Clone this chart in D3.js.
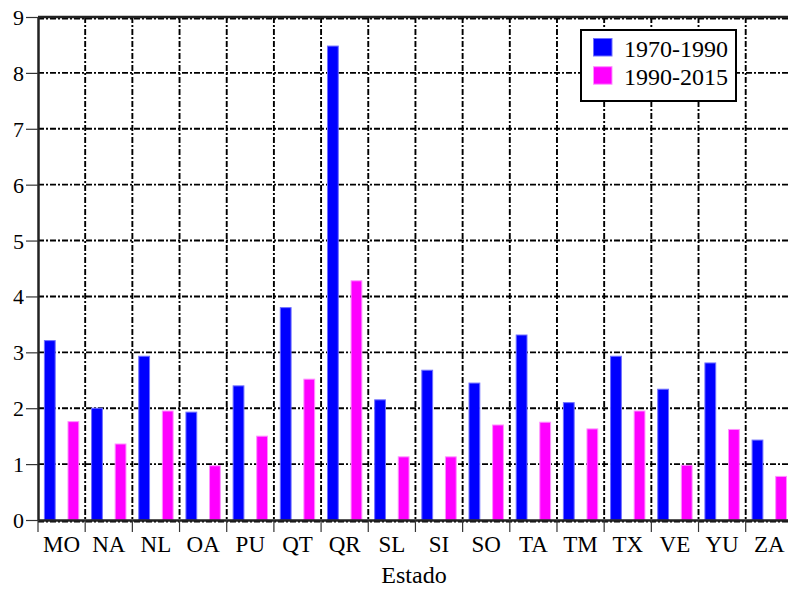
<!DOCTYPE html>
<html>
<head>
<meta charset="utf-8">
<script src="https://cdn.jsdelivr.net/npm/d3@7"></script>
<style>
  html, body { margin: 0; padding: 0; background: #fff; }
  svg { display: block; }
  text { font-family: "Liberation Serif", "Times New Roman", "DejaVu Serif", serif; fill: #000; }
</style>
</head>
<body>
<svg id="chart" width="788" height="589"></svg>
<script>
const categories = ["MO","NA","NL","OA","PU","QT","QR","SL","SI","SO","TA","TM","TX","VE","YU","ZA"];
const seriesNames = ["1970-1990","1990-2015"];
const values1970_1990 = [3.21,2.00,2.93,1.93,2.40,3.80,8.48,2.15,2.68,2.45,3.31,2.10,2.93,2.34,2.81,1.43];
const values1990_2015 = [1.76,1.36,1.95,0.97,1.50,2.52,4.28,1.13,1.13,1.70,1.75,1.63,1.95,0.98,1.62,0.78];
const yTicks = [0,1,2,3,4,5,6,7,8,9];
const colors = ["#0000ff","#ff00ff"];
const strokes = ["#7070ff","#ff90ff"];
const xTitle = "Estado";
const serif = '"Liberation Serif", "Times New Roman", serif';

const svg = d3.select("#chart");
const plotLeft = 38, plotTop = 17, plotBottom = 520, bandW = 47.18;
const plotRight = plotLeft + bandW * categories.length;

const x = d3.scaleBand().domain(categories).range([plotLeft, plotRight]).padding(0);
const xs = d3.scaleBand().domain(seriesNames).range([0, x.bandwidth()]).paddingInner(0.5).paddingOuter(0.25);
const y = d3.scaleLinear().domain([0, 9]).range([plotBottom, plotTop]);

const data = categories.map((c, i) => ({c, vals: [values1970_1990[i], values1990_2015[i]]}));

// grid
const grid = svg.append("g").attr("stroke", "#000").attr("stroke-width", 1.9).attr("stroke-dasharray", "6,2,2,2");
grid.selectAll("line.h").data(yTicks).join("line")
  .attr("x1", plotLeft).attr("x2", plotRight)
  .attr("y1", d => y(d) + ((d === 0 || d === 9) ? 1.5 : 0))
  .attr("y2", d => y(d) + ((d === 0 || d === 9) ? 1.5 : 0));
grid.selectAll("line.v").data(categories.slice(1)).join("line")
  .attr("x1", d => x(d)).attr("x2", d => x(d))
  .attr("y1", plotTop).attr("y2", plotBottom);

// bars
const groups = svg.append("g").selectAll("g").data(data).join("g")
  .attr("transform", d => `translate(${x(d.c)},0)`);
groups.selectAll("rect").data(d => d.vals.map((v, k) => ({v, k}))).join("rect")
  .attr("x", d => xs(seriesNames[d.k]) + 0.5)
  .attr("width", xs.bandwidth() - 1)
  .attr("y", d => y(d.v))
  .attr("height", d => y(0) - y(d.v))
  .attr("fill", d => colors[d.k])
  .attr("stroke", d => strokes[d.k])
  .attr("stroke-width", 1);

// top border
svg.append("line").attr("x1", plotLeft).attr("x2", plotRight).attr("y1", plotTop).attr("y2", plotTop)
  .attr("stroke", "#222").attr("stroke-width", 2.5);

// y axis
const yAxis = svg.append("g").attr("transform", `translate(${plotLeft},0)`)
  .attr("font-family", serif)
  .call(d3.axisLeft(y).tickValues(yTicks).tickSize(12).tickPadding(2).tickSizeOuter(0));
yAxis.attr("font-family", serif).attr("font-size", 22);
yAxis.select(".domain").attr("stroke", "#222").attr("stroke-width", 2.5);
yAxis.selectAll(".tick line").attr("stroke", "#333").attr("stroke-width", 1.2);
yAxis.selectAll("text").attr("dy", "0.34em");

// x axis
const xAxis = svg.append("g").attr("transform", `translate(0,${plotBottom})`)
  .call(d3.axisBottom(x).tickSize(0).tickSizeOuter(0));
xAxis.attr("font-family", serif).attr("font-size", 23);
xAxis.select(".domain").attr("stroke", "#222").attr("stroke-width", 2.5);
xAxis.selectAll("text").attr("dy", null).attr("y", 32);
xAxis.selectAll("line.bt").data(categories).join("line").attr("class", "bt")
  .attr("x1", d => x(d)).attr("x2", d => x(d)).attr("y1", 0).attr("y2", 12)
  .attr("stroke", "#333").attr("stroke-width", 1.2);

// x title
svg.append("text").attr("x", (plotLeft + 790) / 2).attr("y", 583).attr("text-anchor", "middle")
  .attr("font-family", serif).attr("font-size", 24).text(xTitle);

// legend
const lg = svg.append("g").attr("font-family", serif).attr("font-size", 24);
lg.append("rect").attr("x", 581).attr("y", 30).attr("width", 155).attr("height", 71)
  .attr("fill", "#fff").attr("stroke", "#000").attr("stroke-width", 2);
seriesNames.forEach((s, i) => {
  lg.append("rect").attr("x", 593.5).attr("y", 38.5 + i * 28.2).attr("width", 18.5).attr("height", 17.5)
    .attr("fill", colors[i]).attr("stroke", strokes[i]).attr("stroke-width", 1);
  lg.append("text").attr("x", 624).attr("y", 56.5 + i * 28).text(s);
});
</script>
</body>
</html>
